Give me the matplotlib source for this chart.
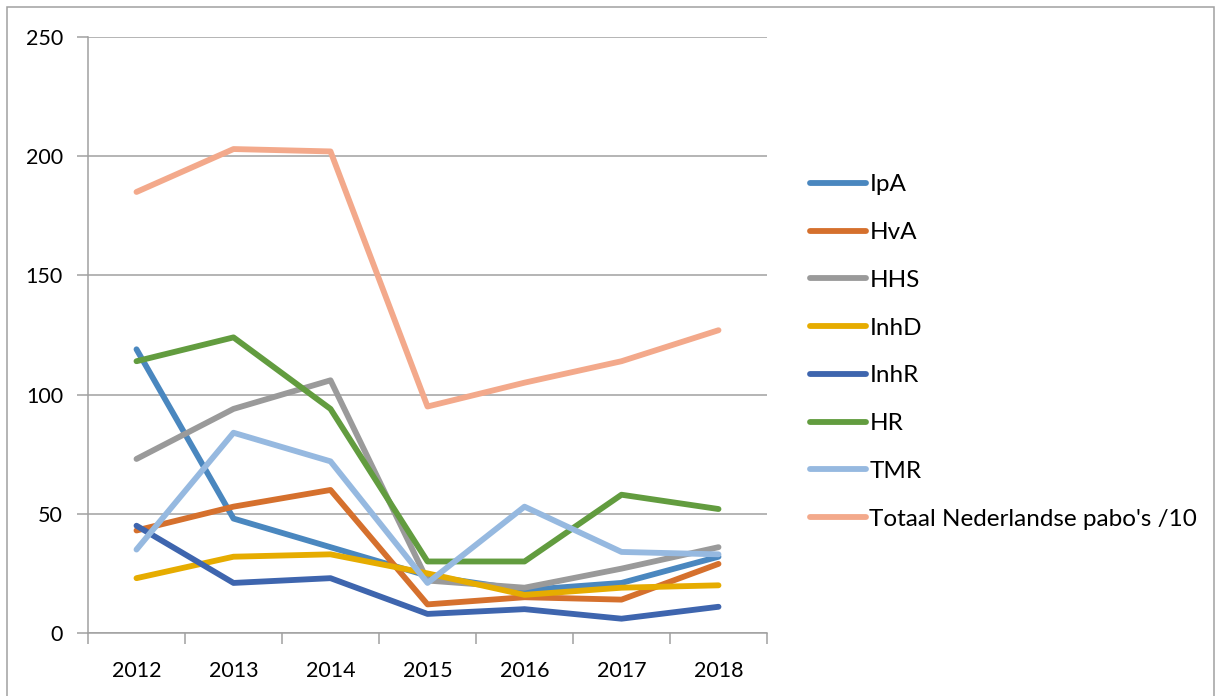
import matplotlib.pyplot as plt
from matplotlib.patches import Rectangle
import numpy as np

plt.rcParams['font.family'] = ['Lato', 'DejaVu Sans']

years = [2012, 2013, 2014, 2015, 2016, 2017, 2018]
ipa = [119, 48, 36, 24, 18, 21, 32]
hva = [43, 53, 60, 12, 15, 14, 29]
hhs = [73, 94, 106, 22, 19, 27, 36]
inhd = [23, 32, 33, 25, 16, 19, 20]
inhr = [45, 21, 23, 8, 10, 6, 11]
hr = [114, 124, 94, 30, 30, 58, 52]
tmr = [35, 84, 72, 21, 53, 34, 33]
totaal = [185, 203, 202, 95, 105, 114, 127]

series = [
    ('IpA', ipa, '#4a87bf'),
    ('HvA', hva, '#d5702d'),
    ('HHS', hhs, '#9a9a9a'),
    ('InhD', inhd, '#e6ac00'),
    ('InhR', inhr, '#3e65ae'),
    ('HR', hr, '#629c3f'),
    ('TMR', tmr, '#96b9e0'),
    ("Totaal Nederlandse pabo's /10", totaal, '#f3a98b'),
]

fig = plt.figure(figsize=(12.17, 6.96), dpi=100)
ax = fig.add_axes([88 / 1217, 1 - 633 / 696, (767 - 88) / 1217, (633 - 37) / 696])

x = np.arange(len(years))
for name, vals, col in series:
    ax.plot(x, vals, color=col, lw=4.2, label=name, solid_capstyle='round', solid_joinstyle='round')

ax.set_xlim(-0.5, len(years) - 0.5)
ax.set_ylim(0, 250)
ax.set_yticks(range(0, 251, 50))
ax.yaxis.grid(True, color='#a0a0a0', lw=1.1)
ax.set_axisbelow(True)

ax.set_xticks(x)
ax.set_xticklabels([str(y) for y in years])
ax.set_xticks(np.arange(-0.5, len(years), 1), minor=True)
ax.tick_params(axis='x', which='major', length=0, pad=20, labelsize=15.5)
ax.tick_params(axis='x', which='minor', length=8, color='#a0a0a0', width=1.1)
ax.tick_params(axis='y', length=8, color='#a0a0a0', width=1.1, labelsize=15.5, pad=10)

for s in ['top', 'right']:
    ax.spines[s].set_visible(False)
for s in ['left', 'bottom']:
    ax.spines[s].set_color('#a0a0a0')
    ax.spines[s].set_linewidth(1.1)

leg = fig.legend(loc='center left', bbox_to_anchor=(788 / 1217, 1 - 352 / 696), frameon=False,
                 fontsize=17.5, handlelength=2.3, handletextpad=0.15, labelspacing=1.1)

fig.patches.append(Rectangle((7 / 1217, -0.01), 1207 / 1217, 1 - 7 / 696 + 0.01, transform=fig.transFigure,
                             fill=False, edgecolor='#a0a0a0', lw=1.1))

plt.savefig('out.png')
plt.close()
